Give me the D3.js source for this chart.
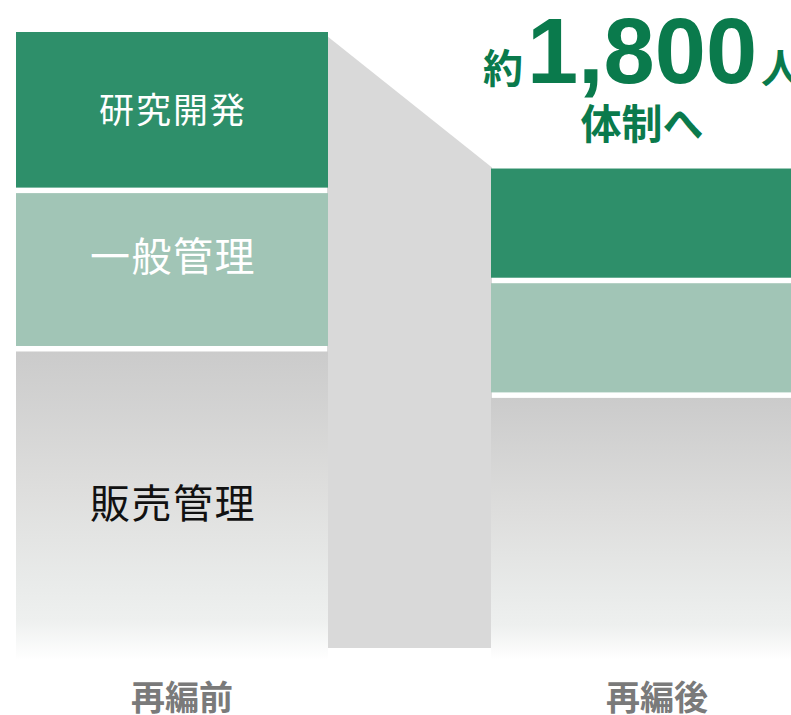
<!DOCTYPE html>
<html lang="ja">
<head>
<meta charset="utf-8">
<script src="https://cdn.jsdelivr.net/npm/d3@7"></script>
<style>
  html, body { margin: 0; padding: 0; background: #ffffff; }
  svg { display: block; }
</style>
</head>
<body>
<svg id="chart" width="791" height="715"></svg>
<script>
// Organisation headcount before / after restructuring
const stages = ["再編前", "再編後"];
const divisions = ["研究開発", "一般管理", "販売管理"];
const researchStaff = [580, 410];
const generalStaff = [580, 420];
const salesStaff = [1140, 970];
const headlineParts = ["約", "1,800", "人"];
const headlineSub = "体制へ";

const W = 791, H = 715;
const svg = d3.select("#chart");

const x = d3.scaleBand().domain(stages).range([16, 803]).paddingInner(163 / 475).paddingOuter(0);
const y = d3.scaleLinear().domain([0, 2300]).range([660, 32]);

const colors = { "研究開発": "#2e8f6a", "一般管理": "#a1c5b6" };

// gradient for the sales block
const defs = svg.append("defs");
const grad = defs.append("linearGradient").attr("id", "salesGrad")
  .attr("x1", 0).attr("y1", 0).attr("x2", 0).attr("y2", 1);
[[0, "#cbcbcb"], [0.45, "#dededd"], [0.75, "#e9ebea"], [0.87, "#eef0ef"], [1, "#ffffff"]]
  .forEach(([o, c]) => grad.append("stop").attr("offset", o).attr("stop-color", c));

// stack data
const rows = stages.map((s, i) => ({
  stage: s,
  "販売管理": salesStaff[i],
  "一般管理": generalStaff[i],
  "研究開発": researchStaff[i]
}));
const stack = d3.stack().keys(["販売管理", "一般管理", "研究開発"])(rows);

// connector band between the two bars
const leftEnd = x(stages[0]) + x.bandwidth();
const rightStart = x(stages[1]);
const leftTotal = salesStaff[0] + generalStaff[0] + researchStaff[0];
const rightTotal = salesStaff[1] + generalStaff[1] + researchStaff[1];
const connectorBase = y(0) - 12;
svg.append("path")
  .attr("d", d3.line()([
    [leftEnd - 1, y(leftTotal) + 4],
    [rightStart + 1, y(rightTotal) - 1],
    [rightStart + 1, connectorBase],
    [leftEnd - 1, connectorBase]
  ]) + "Z")
  .attr("fill", "#d9d9d9");

const gap = 5.5;
const layers = svg.append("g").selectAll("g").data(stack).join("g");
layers.selectAll("rect")
  .data(d => d.map(v => ({ key: d.key, v })))
  .join("rect")
  .attr("x", d => x(d.v.data.stage))
  .attr("width", x.bandwidth())
  .attr("y", d => y(d.v[1]) + (d.key === "研究開発" ? 0 : gap / 2))
  .attr("height", d => {
    const top = y(d.v[1]) + (d.key === "研究開発" ? 0 : gap / 2);
    const bottom = y(d.v[0]) - (d.key === "販売管理" ? 0 : gap / 2);
    return bottom - top;
  })
  .attr("fill", d => d.key === "販売管理" ? "url(#salesGrad)" : colors[d.key]);

// division labels on the first bar
const jp = "'Noto Sans CJK JP', 'Noto Sans', sans-serif";
const first = stack.map(layer => ({ key: layer.key, v: layer[0] }));
const labelStyle = {
  "研究開発": { size: 35, fill: "#ffffff", ls: 2, dy: -4 },
  "一般管理": { size: 40, fill: "#ffffff", ls: 1.5, dy: -16 },
  "販売管理": { size: 40, fill: "#111111", ls: 1.5, dy: -3 }
};
svg.append("g").selectAll("text")
  .data(first.filter(d => divisions.includes(d.key)))
  .join("text")
  .attr("x", x(stages[0]) + x.bandwidth() / 2 + 1)
  .attr("y", d => (y(d.v[0]) + y(d.v[1])) / 2 + labelStyle[d.key].dy)
  .attr("text-anchor", "middle")
  .attr("dominant-baseline", "central")
  .attr("font-family", jp)
  .attr("font-size", d => labelStyle[d.key].size)
  .attr("letter-spacing", d => labelStyle[d.key].ls)
  .attr("fill", d => labelStyle[d.key].fill)
  .text(d => d.key);

// stage labels under the bars
svg.append("g").selectAll("text")
  .data(stages)
  .join("text")
  .attr("x", d => x(d) + x.bandwidth() / 2 + 10)
  .attr("y", 710)
  .attr("text-anchor", "middle")
  .attr("font-family", jp)
  .attr("font-weight", 700)
  .attr("font-size", 34)
  .attr("fill", "#7a7a7a")
  .text(d => d);

// headline above the second bar
const cx = x(stages[1]) + x.bandwidth() / 2 - 5;
const green = "#0a7a4c";
const head = svg.append("text")
  .attr("x", cx)
  .attr("y", 83)
  .attr("text-anchor", "middle")
  .attr("fill", green)
  .attr("font-weight", 700);
head.append("tspan").attr("font-family", jp).attr("font-size", 40).attr("dx", 0).text(headlineParts[0]);
head.append("tspan").attr("font-family", "'Liberation Sans', Arial, sans-serif").attr("font-size", 92)
  .attr("dx", 4).text(headlineParts[1]);
head.append("tspan").attr("font-family", jp).attr("font-size", 40).attr("dx", 4).text(headlineParts[2]);

svg.append("text")
  .attr("x", cx)
  .attr("y", 139)
  .attr("text-anchor", "middle")
  .attr("fill", green)
  .attr("font-weight", 700)
  .attr("font-family", jp)
  .attr("font-size", 41)
  .text(headlineSub);
</script>
</body>
</html>
